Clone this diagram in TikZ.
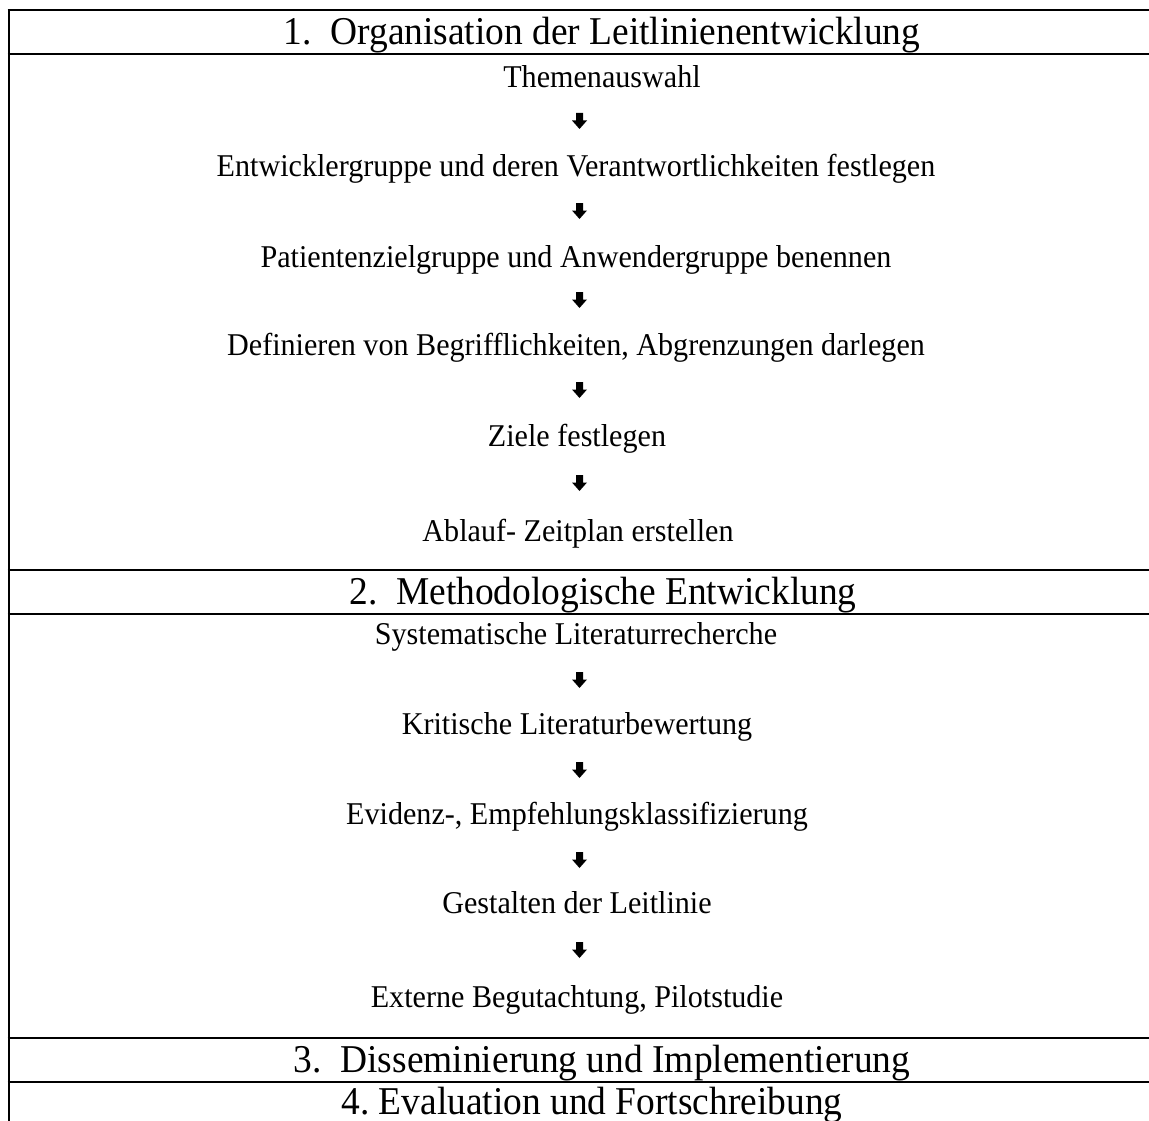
\documentclass[tikz,border=0pt]{standalone}
\usepackage{fontspec}
\setmainfont{Liberation Serif}[FakeStretch=0.95]
\frenchspacing
\begin{document}
\begin{tikzpicture}[x=1pt,y=-1pt,
  rule/.style={line width=2pt},
  body/.style={anchor=base,inner sep=0pt,font=\fontsize{31.7}{38}\selectfont},
  head/.style={anchor=base,inner sep=0pt,font=\fontsize{39.4}{46}\selectfont},
  darr/.style={fill=black}]
\useasboundingbox (0,0) rectangle (1149,1121);
% rules
\coordinate (tl) at (8.5,10);
\coordinate (bl) at (8.5,1121);
\draw[rule] (tl) -- (bl);
\foreach \yy in {10,54,570,614,1038,1082}{\draw[rule] (7.5,\yy) -- (1149,\yy);}
% headers
\node[head] (h1) at (602,44.5) {1.\ \ Organisation der Leitlinienentwicklung};
\node[head] (h2) at (603,604.5) {2.\ \ Methodologische Entwicklung};
\node[head] (h3) at (602,1072.5) {3.\ \ Disseminierung und Implementierung};
\node[head] (h4) at (592,1114.5) {4.\ Evaluation und Fortschreibung};
% section 1
\node[body] (a1) at (602,87.5) {Themenauswahl};
\node[body] (a2) at (576,176.5) {Entwicklergruppe und deren Verantwortlichkeiten festlegen};
\node[body] (a3) at (576,267.5) {Patientenzielgruppe und Anwendergruppe benennen};
\node[body] (a4) at (576,355.5) {Definieren von Begrifflichkeiten, Abgrenzungen darlegen};
\node[body] (a5) at (577,446.5) {Ziele festlegen};
\node[body] (a6) at (578,541.5) {Ablauf- Zeitplan erstellen};
% section 2
\node[body] (b1) at (576,644.5) {Systematische Literaturrecherche};
\node[body] (b2) at (577,734.5) {Kritische Literaturbewertung};
\node[body] (b3) at (577,824.5) {Evidenz-, Empfehlungsklassifizierung};
\node[body] (b4) at (577,913.5) {Gestalten der Leitlinie};
\node[body] (b5) at (577,1007.5) {Externe Begutachtung, Pilotstudie};
% arrows
\foreach \n/\yy in {p1/121,p2/211,p3/300,p4/390,p5/483,q1/680,q2/770,q3/860,q4/950}{
  \coordinate (\n) at (579.5,\yy);
  \fill[darr] ([xshift=-3.5pt,yshift=8pt]\n) -- ([xshift=3.5pt,yshift=8pt]\n) -- ([xshift=3.5pt,yshift=0.5pt]\n) -- ([xshift=7.5pt,yshift=0.5pt]\n) -- ([yshift=-8pt]\n) -- ([xshift=-7.5pt,yshift=0.5pt]\n) -- ([xshift=-3.5pt,yshift=0.5pt]\n) -- cycle;
}
\end{tikzpicture}
\end{document}
